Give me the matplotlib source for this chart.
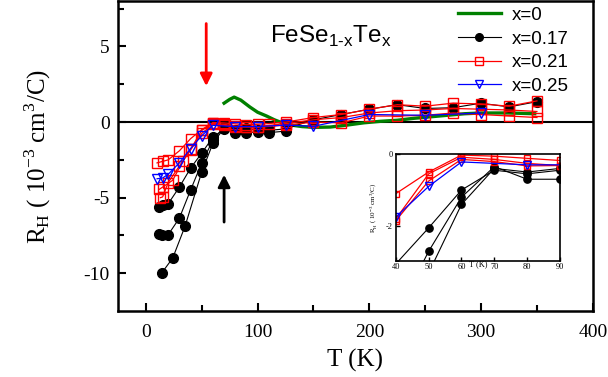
import numpy as np
import matplotlib
matplotlib.use('Agg')
import matplotlib.pyplot as plt
from matplotlib.lines import Line2D

plt.rcParams['font.family'] = 'Liberation Serif'
plt.rcParams['axes.unicode_minus'] = False
plt.rcParams['xtick.direction'] = 'in'
plt.rcParams['ytick.direction'] = 'in'

# x = 0 (continuous curve)
t_x0 = [70, 75, 79, 85, 93, 100, 108, 115, 122, 130, 140, 150, 165, 180, 195,
        210, 225, 240, 255, 270, 285, 300, 325, 348]
r_x0 = [1.25, 1.5, 1.65, 1.45, 1.0, 0.65, 0.4, 0.15, -0.05, -0.2, -0.3, -0.35,
        -0.33, -0.2, -0.05, 0.05, 0.12, 0.25, 0.35, 0.45, 0.55, 0.6, 0.6, 0.55]

# x = 0.17 (three runs)
t_a = [12, 15, 20, 30, 40, 50, 60, 70, 80, 90, 100, 110, 125, 150, 175, 200,
       225, 250, 275, 300, 325, 350]
r_a = [-5.65, -5.5, -5.4, -4.3, -3.05, -2.05, -1.0, -0.45, -0.55, -0.45, -0.5,
       -0.55, -0.45, 0.15, 0.5, 0.85, 1.15, 0.9, 0.95, 1.25, 1.0, 1.35]
t_b = [12, 14, 20, 30, 40, 50, 60, 70, 80, 90, 100, 110, 125]
r_b = [-7.4, -7.5, -7.45, -6.35, -4.5, -2.7, -1.2, -0.35, -0.7, -0.7, -0.65,
       -0.7, -0.6]
t_c = [14, 24, 35, 50, 60, 70, 80, 90]
r_c = [-10.0, -9.0, -6.9, -3.3, -1.4, -0.4, -0.5, -0.4]

# x = 0.21 (three runs)
t_r1 = [10, 15, 20, 30, 40, 50, 60, 70, 80, 90, 100, 110, 125, 150, 175, 200,
        225, 250, 275, 300, 325, 350]
r_r1 = [-2.7, -2.6, -2.5, -1.9, -1.1, -0.5, -0.03, -0.06, -0.12, -0.18, -0.15,
        -0.1, 0.0, 0.3, 0.5, 0.85, 1.15, 1.05, 1.25, 1.2, 1.05, 1.4]
t_r2 = [12, 15, 24, 33, 40, 50, 60, 70, 80, 90, 100, 125, 150, 175, 200, 225,
        250, 275, 300, 325, 350]
r_r2 = [-4.45, -4.3, -3.85, -2.6, -1.8, -0.55, -0.09, -0.15, -0.26, -0.32,
        -0.3, -0.1, 0.15, 0.3, 0.6, 0.75, 0.8, 0.9, 0.85, 0.8, 0.7]
t_r3 = [13, 15, 20, 30, 40, 50, 60, 70, 80, 90, 100, 125, 150, 175, 200, 225,
        250, 275, 300, 325, 350]
r_r3 = [-5.0, -4.95, -4.0, -2.9, -1.85, -0.75, -0.15, -0.21, -0.33, -0.32,
        -0.35, -0.2, 0.0, -0.05, 0.4, 0.4, 0.45, 0.6, 0.5, 0.4, 0.3]

# x = 0.25
t_bl = [10, 15, 20, 30, 40, 50, 60, 80, 100, 125, 150, 200, 250, 300]
r_bl = [-3.75, -3.7, -3.45, -2.7, -1.75, -0.9, -0.22, -0.3, -0.3, -0.2, -0.28,
        0.5, 0.45, 0.6]

labels = ['x=0', 'x=0.17', 'x=0.21', 'x=0.25']

black = dict(color='k', lw=0.8, marker='o', ms=7, mfc='k', mec='k')
red = dict(color='red', lw=0.9, marker='s', ms=6.5, mfc='none', mec='red', mew=1)
blue = dict(color='blue', lw=0.9, marker='v', ms=7, mfc='none', mec='blue', mew=1)


def draw(ax, scale=1.0):
    for t, r in [(t_c, r_c), (t_b, r_b), (t_a, r_a)]:
        ax.plot(t, r, **dict(black, ms=black['ms'] * scale))
    for t, r in [(t_r3, r_r3), (t_r2, r_r2), (t_r1, r_r1)]:
        ax.plot(t, r, **dict(red, ms=red['ms'] * scale))
    ax.plot(t_bl, r_bl, **dict(blue, ms=blue['ms'] * scale))


fig = plt.figure(figsize=(6.08, 3.77), dpi=100)
ax = fig.add_axes([0.194, 0.175, 0.781, 0.822])

ax.axhline(0, color='k', lw=1.5, zorder=1)
ax.plot(t_x0, r_x0, color='green', lw=2.4, zorder=2)
draw(ax)

ax.set_xlim(-25, 400)
ax.set_ylim(-12.5, 8)
ax.set_xticks([0, 100, 200, 300, 400])
ax.set_xticks([50, 150, 250, 350], minor=True)
ax.set_yticks([-10, -5, 0, 5])
ax.set_yticks([-7.5, -2.5, 2.5, 7.5], minor=True)
ax.tick_params(which='both', width=1.5, labelsize=14, top=False, right=False)
ax.tick_params(which='major', length=6)
ax.tick_params(which='minor', length=4)
ax.tick_params(axis='x', pad=9)
ax.tick_params(axis='y', pad=6)
for s in ax.spines.values():
    s.set_linewidth(1.8)

ax.set_xlabel('T (K)', fontsize=18, labelpad=6)
ax.set_ylabel(r'R$_{\mathregular{H}}$ ( 10$^{\mathregular{-3}}$ cm$^{\mathregular{3}}$/C)',
              fontsize=18, labelpad=22)

ax.annotate('', xy=(54, 2.2), xytext=(54, 6.7),
            arrowprops=dict(arrowstyle='-|>', color='red', lw=2, mutation_scale=18))
ax.annotate('', xy=(70, -3.3), xytext=(70, -6.8),
            arrowprops=dict(arrowstyle='-|>', color='k', lw=2, mutation_scale=18))

ax.text(0.32, 0.865, 'FeSe$_{\\mathregular{1\u2010x}}$Te$_{\\mathregular{x}}$',
        transform=ax.transAxes, fontsize=17.5, family='Liberation Sans',
        va='baseline')

handles = [
    Line2D([], [], color='green', lw=2.4),
    Line2D([], [], **dict(black, ms=5.5)),
    Line2D([], [], **dict(red, ms=5.5)),
    Line2D([], [], **dict(blue, ms=5.5)),
]
leg = ax.legend(handles, labels, loc='upper left', bbox_to_anchor=(0.68, 1.036),
                frameon=False, prop={'family': 'Liberation Sans', 'size': 13.5},
                handlelength=2.3, handletextpad=0.6, labelspacing=0.35)

# inset
ins = fig.add_axes([0.651, 0.3085, 0.270, 0.283])
draw(ins, scale=0.75)
ins.set_xlim(40, 90)
ins.set_ylim(-2.96, 0)
ins.set_xticks([40, 50, 60, 70, 80, 90])
ins.set_yticks([-2, 0])
ins.tick_params(which='both', labelsize=6, length=3, width=1, pad=2,
                top=False, right=False)
for s in ins.spines.values():
    s.set_linewidth(1.2)
ins.set_xlabel('T (K)', fontsize=6, labelpad=-8)
ins.set_ylabel(r'R$_{\mathregular{H}}$ ( 10$^{\mathregular{-3}}$ cm$^{\mathregular{3}}$/C)',
               fontsize=5, labelpad=5)

fig.savefig('out.png', dpi=100)
